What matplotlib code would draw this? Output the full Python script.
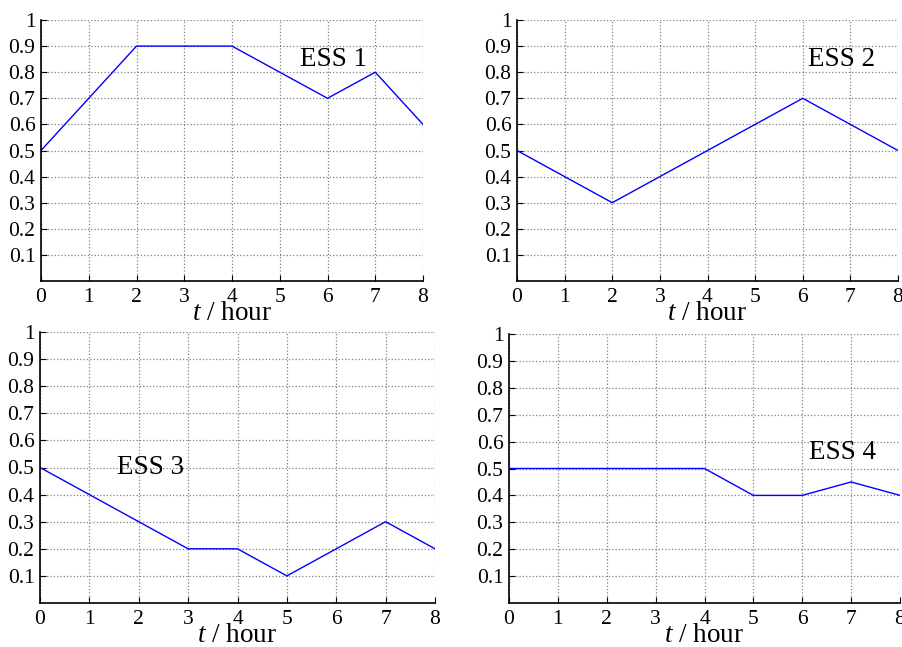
import numpy as np
import matplotlib
matplotlib.use("Agg")
import matplotlib.pyplot as plt

plt.rcParams['font.family'] = ['Liberation Serif', 'DejaVu Serif']
plt.rcParams['mathtext.fontset'] = 'custom'
plt.rcParams['mathtext.rm'] = 'Liberation Serif'
plt.rcParams['mathtext.it'] = 'Liberation Serif:italic'

hours = [0, 1, 2, 3, 4, 5, 6, 7, 8]
ess1 = [0.5, 0.7, 0.9, 0.9, 0.9, 0.8, 0.7, 0.8, 0.6]
ess2 = [0.5, 0.4, 0.3, 0.4, 0.5, 0.6, 0.7, 0.6, 0.5]
ess3 = [0.5, 0.4, 0.3, 0.2, 0.2, 0.1, 0.2, 0.3, 0.2]
ess4 = [0.5, 0.5, 0.5, 0.5, 0.5, 0.4, 0.4, 0.45, 0.4]
names = ['ESS 1', 'ESS 2', 'ESS 3', 'ESS 4']
yticks = [0.1, 0.2, 0.3, 0.4, 0.5, 0.6, 0.7, 0.8, 0.9, 1.0]
ylabels = ['0.1', '0.2', '0.3', '0.4', '0.5', '0.6', '0.7', '0.8', '0.9', '1']

W, H = 902, 647
fig = plt.figure(figsize=(W / 100, H / 100), dpi=100)

# axes boxes in pixels: left, top, right, bottom
boxes = [(41, 20, 423, 281), (517, 20, 898, 281),
         (40, 332, 435, 603), (509, 334, 900, 603)]
label_pos = [(5.42, 0.85), (6.11, 0.85), (1.56, 0.50), (6.13, 0.56)]
series = [ess1, ess2, ess3, ess4]

for (l, t, r, b), ys, name, (tx, ty) in zip(boxes, series, names, label_pos):
    ax = fig.add_axes([l / W, 1 - b / H, (r - l) / W, (b - t) / H])
    ax.plot(hours, ys, color='#0000ff', lw=1.0)
    ax.set_xlim(0, 8)
    ax.set_ylim(0, 1)
    ax.set_xticks(hours)
    ax.set_yticks(yticks)
    ax.set_yticklabels(ylabels)
    ax.grid(True, color='0.5', linestyle=':', linewidth=0.9)
    ax.spines['top'].set_visible(False)
    ax.spines['right'].set_visible(False)
    ax.spines['left'].set_linewidth(1.2)
    ax.spines['bottom'].set_linewidth(1.2)
    ax.tick_params(direction='in', length=4, width=0.8, labelsize=15.5)
    ax.tick_params(axis='x', pad=5)
    ax.tick_params(axis='y', pad=4)
    ax.set_xlabel(r'$\mathit{t}$ / hour', fontsize=19.5, labelpad=-4)
    ax.text(tx, ty, name, fontsize=19.5, va='center', ha='left')

fig.savefig('out.png', dpi=100)
